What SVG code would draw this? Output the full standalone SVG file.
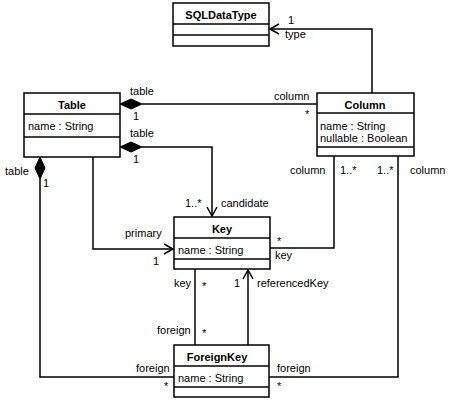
<svg xmlns="http://www.w3.org/2000/svg" width="450" height="401" viewBox="0 0 450 401">
<defs>
<style>
text{font-family:"Liberation Sans",Arial,sans-serif;font-size:11px;fill:#000}
.b{font-weight:bold;text-anchor:middle}
.box{fill:#fff;stroke:#000;stroke-width:1.5}
.ln{fill:none;stroke:#000;stroke-width:1.5}
.dia{fill:#000;stroke:#000;stroke-width:1}
.arr{fill:none;stroke:#000;stroke-width:1.5}
</style>
</defs>
<rect width="450" height="401" fill="#fff"/>
<g id="connectors">
<!-- Column -> SQLDataType -->
<polyline class="ln" points="372,93 372,29 270,29"/>
<polyline class="arr" points="279,24 270,29 279,34"/>
<!-- Table - Column -->
<line class="ln" x1="142" y1="104" x2="317" y2="104"/>
<polygon class="dia" points="120,104 131,99 142,104 131,109"/>
<!-- Table - Key candidate -->
<polyline class="ln" points="142,147 212,147 212,216"/>
<polygon class="dia" points="120,147 131,142 142,147 131,152"/>
<polyline class="arr" points="207,207 212,216 217,207"/>
<!-- Table - Key primary -->
<polyline class="ln" points="93,157 93,249 173,249"/>
<polyline class="arr" points="164,244 173,249 164,254"/>
<!-- Table - ForeignKey -->
<polyline class="ln" points="40,179 40,377 174,377"/>
<polygon class="dia" points="40,157 35,168 40,179 45,168"/>
<!-- Column - Key -->
<polyline class="ln" points="334,156 334,248 270,248"/>
<!-- Column - ForeignKey -->
<polyline class="ln" points="398,156 398,377 269,377"/>
<!-- Key - ForeignKey -->
<line class="ln" x1="195" y1="269" x2="195" y2="345"/>
<line class="ln" x1="248" y1="270" x2="248" y2="345"/>
<polyline class="arr" points="243,279 248,270 253,279"/>
</g>
<g id="SQLDataType">
<rect class="box" x="173" y="3" width="96" height="43"/>
<line class="ln" x1="173" y1="24" x2="269" y2="24"/>
<line class="ln" x1="173" y1="35" x2="269" y2="35"/>
<text class="b" x="221" y="19">SQLDataType</text>
</g>
<g id="Table">
<rect class="box" x="24" y="93" width="96" height="64"/>
<line class="ln" x1="24" y1="114" x2="120" y2="114"/>
<line class="ln" x1="24" y1="137" x2="120" y2="137"/>
<text class="b" x="72" y="109">Table</text>
<text x="28" y="130">name : String</text>
</g>
<g id="Column">
<rect class="box" x="317" y="93" width="97" height="63"/>
<line class="ln" x1="317" y1="113" x2="414" y2="113"/>
<line class="ln" x1="317" y1="147" x2="414" y2="147"/>
<text class="b" x="365" y="109">Column</text>
<text x="320" y="130">name : String</text>
<text x="320" y="142">nullable : Boolean</text>
</g>
<g id="Key">
<rect class="box" x="174" y="217" width="96" height="52"/>
<line class="ln" x1="174" y1="238" x2="270" y2="238"/>
<line class="ln" x1="174" y1="259" x2="270" y2="259"/>
<text class="b" x="222" y="233">Key</text>
<text x="178" y="254">name : String</text>
</g>
<g id="ForeignKey">
<rect class="box" x="174" y="345" width="95" height="52"/>
<line class="ln" x1="174" y1="366" x2="269" y2="366"/>
<line class="ln" x1="174" y1="387" x2="269" y2="387"/>
<text class="b" x="217" y="361">ForeignKey</text>
<text x="178" y="382">name : String</text>
</g>
<g id="labels">
<text x="288" y="24">1</text>
<text x="285" y="38">type</text>
<text x="130" y="95">table</text>
<text x="133" y="120">1</text>
<text x="130" y="137">table</text>
<text x="133" y="163">1</text>
<text x="5" y="175">table</text>
<text x="43" y="187">1</text>
<text x="274" y="100">column</text>
<text x="305" y="118">*</text>
<text x="290" y="174">column</text>
<text x="340" y="174">1..*</text>
<text x="377" y="174">1..*</text>
<text x="410" y="174">column</text>
<text x="185" y="207">1..*</text>
<text x="221" y="207">candidate</text>
<text x="125" y="237">primary</text>
<text x="153" y="265">1</text>
<text x="277" y="245">*</text>
<text x="275" y="259">key</text>
<text x="174" y="287">key</text>
<text x="202" y="290">*</text>
<text x="234" y="287">1</text>
<text x="257" y="287">referencedKey</text>
<text x="157" y="334">foreign</text>
<text x="202" y="337">*</text>
<text x="136" y="372">foreign</text>
<text x="164" y="390">*</text>
<text x="277" y="372">foreign</text>
<text x="277" y="390">*</text>
</g>
</svg>
